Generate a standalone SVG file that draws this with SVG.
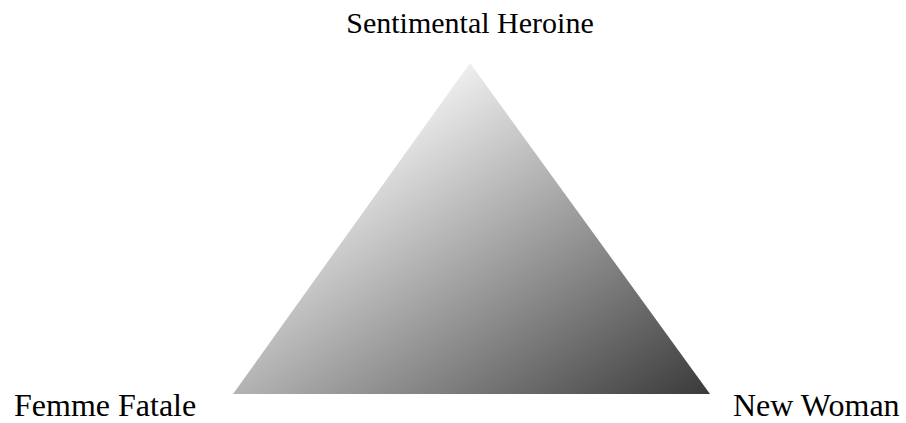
<svg xmlns="http://www.w3.org/2000/svg" width="906" height="423" viewBox="0 0 906 423">
  <style>
    .lbl { font-family: "Liberation Serif", "Times New Roman", serif; fill: #000; }
    .top { font-size: 30px; }
    .bot { font-size: 32px; }
  </style>
  <defs>
    <linearGradient id="g" gradientUnits="userSpaceOnUse" x1="470" y1="63" x2="705.8" y2="396.4">
      <stop offset="0" stop-color="#eeeeee"/>
      <stop offset="1" stop-color="#3a3a3a"/>
    </linearGradient>
  </defs>
  <rect width="906" height="423" fill="#fff"/>
  <g id="triangle">
    <polygon points="470,63 233,394 710,394" fill="url(#g)"/>
  </g>
  <g id="sentimental-heroine">
    <text class="lbl top" x="470" y="33" text-anchor="middle">Sentimental Heroine</text>
  </g>
  <g id="femme-fatale">
    <text class="lbl bot" x="14" y="416">Femme Fatale</text>
  </g>
  <g id="new-woman">
    <text class="lbl bot" x="733" y="416">New Woman</text>
  </g>
</svg>
